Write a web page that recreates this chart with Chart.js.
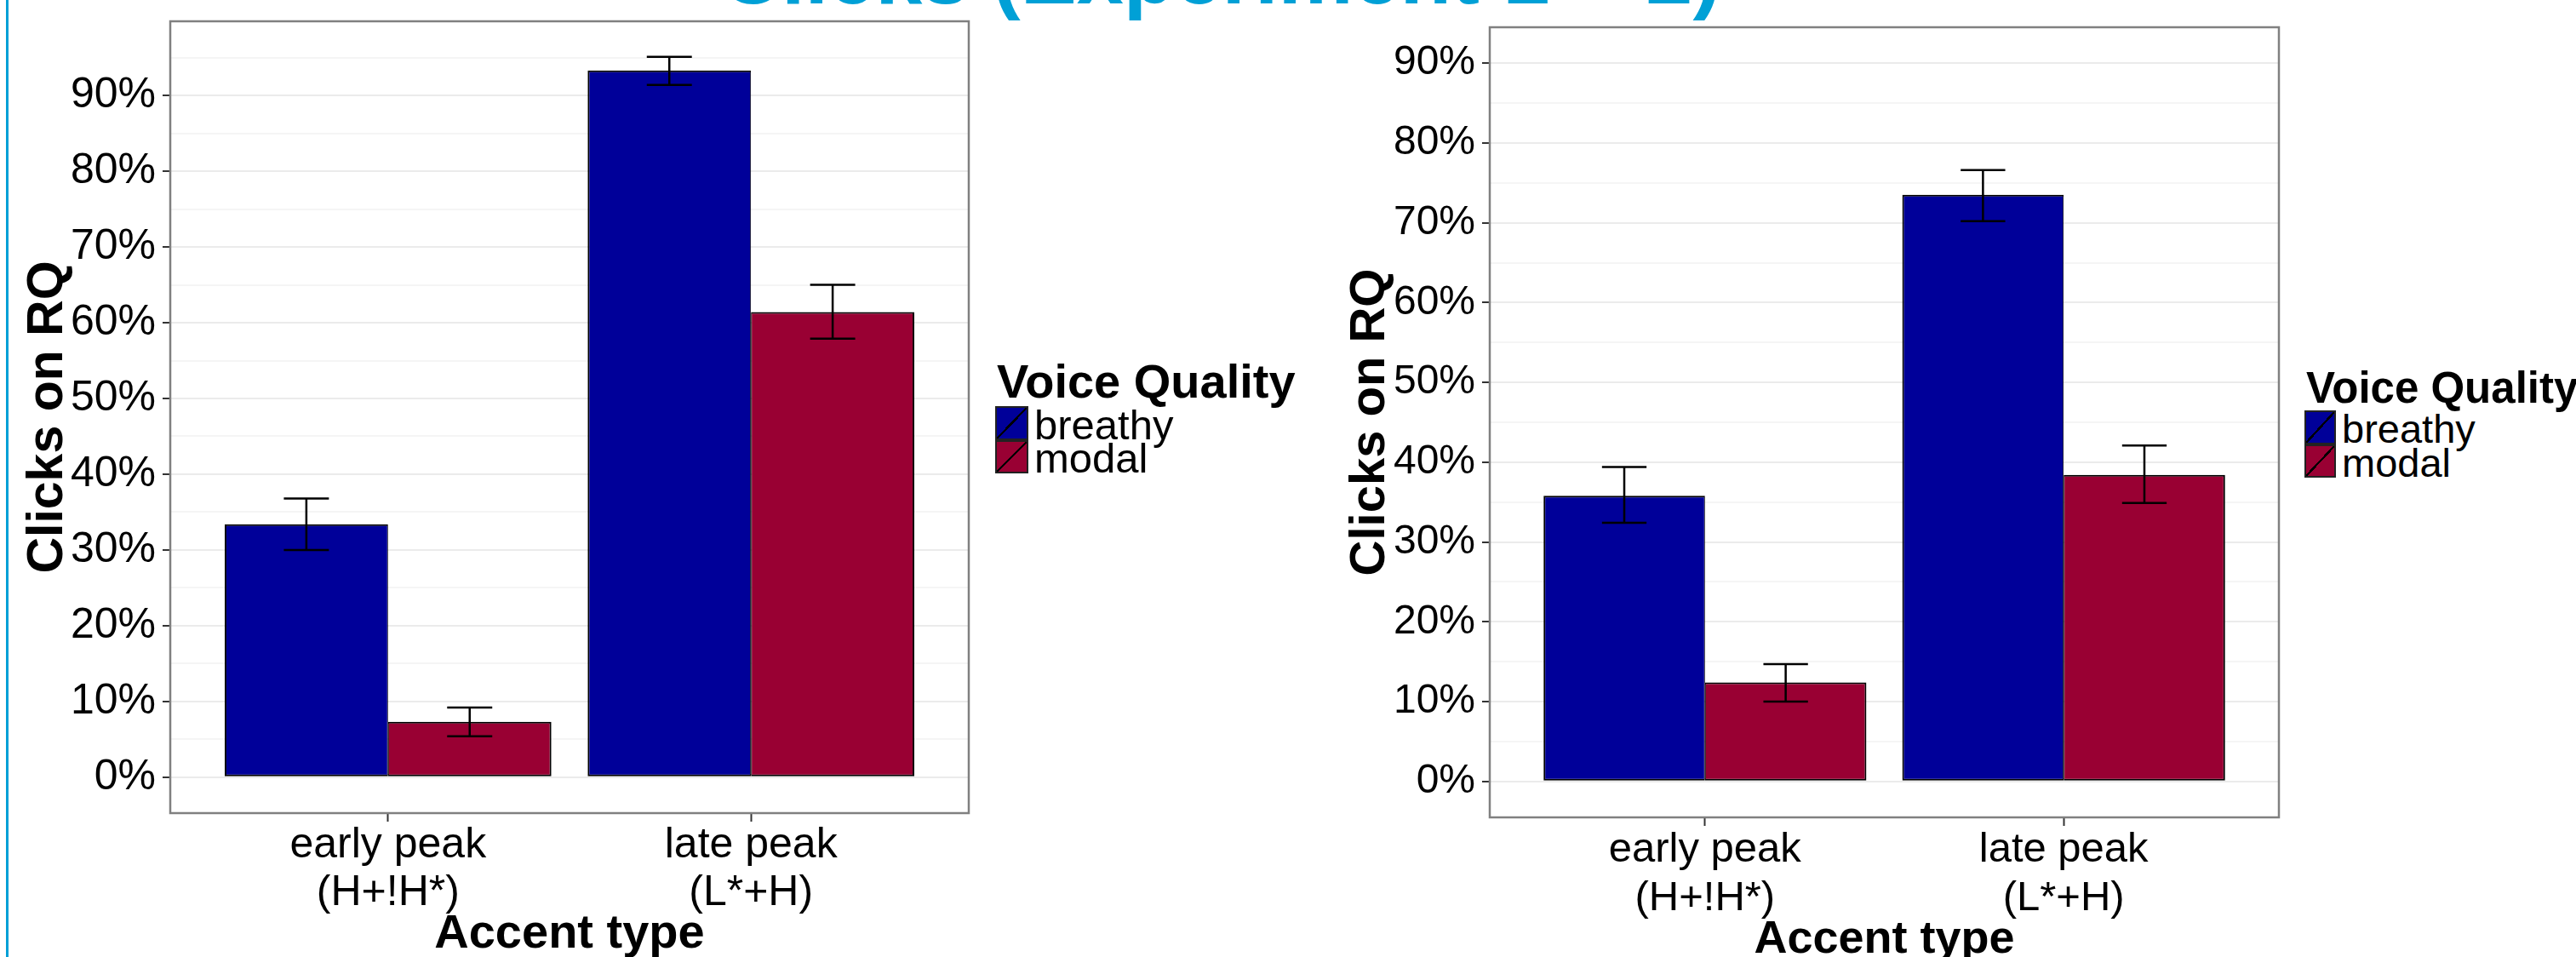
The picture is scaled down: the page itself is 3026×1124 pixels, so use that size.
<!DOCTYPE html>
<html lang="en">
<head>
<meta charset="UTF-8">
<title>Clicks on RQ</title>
<style>
  body {
    margin: 0;
    width: 3026px;
    height: 1124px;
    overflow: hidden;
    position: relative;
    background: #fff;
    font-family: 'Liberation Sans', Arial, sans-serif;
  }
  .slide-line {
    position: absolute;
    left: 7px;
    top: 0;
    width: 3px;
    height: 1124px;
    background: #00a0d6;
  }
  .slide-title {
    position: absolute;
    left: 1434px;
    top: -80px;
    transform: translateX(-50%);
    font-size: 99px;
    line-height: 1;
    font-weight: bold;
    color: #00a0d6;
    white-space: nowrap;
  }
  canvas { position: absolute; top: 0; }
  #chartLeft { left: 0; }
  #chartRight { left: 1550px; }
  .lg { position: absolute; white-space: nowrap; line-height: 1; color: #000; }
  .lg-box { position: absolute; box-sizing: border-box; border: 2px solid #222; }
</style>
</head>
<body>
<div class="slide-line"></div>
<div class="slide-title">Clicks (Experiment 1 + 2)</div>
<canvas id="chartLeft" width="1150" height="1160"></canvas>
<canvas id="chartRight" width="1140" height="1160"></canvas>
<div id="legendLeft"></div>
<div id="legendRight"></div>

<script src="https://cdn.jsdelivr.net/npm/chart.js"></script>
<script>
  // data (percent)
  const categories = [['early peak', '(H+!H*)'], ['late peak', '(L*+H)']];
  const seriesNames = ['breathy', 'modal'];
  const seriesColors = ['#000099', '#990033'];

  const exp1Breathy = [33.4, 93.3];
  const exp1BreathyLow = [30.0, 91.4];
  const exp1BreathyHigh = [36.8, 95.1];
  const exp1Modal = [7.3, 61.4];
  const exp1ModalLow = [5.4, 57.9];
  const exp1ModalHigh = [9.2, 65.0];

  const exp2Breathy = [35.8, 73.5];
  const exp2BreathyLow = [32.4, 70.2];
  const exp2BreathyHigh = [39.4, 76.6];
  const exp2Modal = [12.4, 38.4];
  const exp2ModalLow = [10.0, 34.9];
  const exp2ModalHigh = [14.7, 42.1];

  const yTickValues = [0, 10, 20, 30, 40, 50, 60, 70, 80, 90];
  const yTickLabels = ['0%', '10%', '20%', '30%', '40%', '50%', '60%', '70%', '80%', '90%'];
  const yMinorLeft = [5, 15, 25, 35, 45, 55, 65, 75, 85, 95];
  const yMinorRight = [5, 15, 25, 35, 45, 55, 65, 75, 85];

  const FONT = "'Liberation Sans', Arial, sans-serif";
  Chart.defaults.font.family = FONT;
  Chart.defaults.color = '#000';

  // error bars drawn on top of the bars
  const errorBars = {
    id: 'errorBars',
    afterDatasetsDraw(chart) {
      const ctx = chart.ctx;
      const y = chart.scales.y;
      ctx.save();
      ctx.strokeStyle = '#000';
      ctx.lineWidth = 2.5;
      chart.data.datasets.forEach((ds, i) => {
        chart.getDatasetMeta(i).data.forEach((bar, j) => {
          const top = y.getPixelForValue(ds.errHigh[j]);
          const bot = y.getPixelForValue(ds.errLow[j]);
          const half = bar.width * 0.138;
          ctx.beginPath();
          ctx.moveTo(bar.x, top); ctx.lineTo(bar.x, bot);
          ctx.moveTo(bar.x - half, top); ctx.lineTo(bar.x + half, top);
          ctx.moveTo(bar.x - half, bot); ctx.lineTo(bar.x + half, bot);
          ctx.stroke();
        });
      });
      ctx.restore();
    }
  };

  // grey frame round the panel
  const panelBorder = {
    id: 'panelBorder',
    afterDatasetsDraw(chart) {
      const { ctx, chartArea: a } = chart;
      ctx.save();
      ctx.strokeStyle = '#808080';
      ctx.lineWidth = 2.5;
      ctx.strokeRect(a.left, a.top, a.right - a.left, a.bottom - a.top);
      ctx.restore();
    }
  };

  function makeChart(id, d, s) {
    const toPoints = arr => arr.map((v, i) => ({ x: i + 1, y: v }));
    const isMajor = v => yTickValues.indexOf(v) >= 0;

    return new Chart(document.getElementById(id), {
      type: 'bar',
      data: {
        datasets: [
          {
            label: seriesNames[0],
            data: toPoints(d.breathy),
            errLow: d.breathyLow,
            errHigh: d.breathyHigh,
            backgroundColor: seriesColors[0],
            borderColor: '#000',
            borderWidth: { top: 2, left: 2, bottom: 2, right: 1 },
            borderSkipped: false
          },
          {
            label: seriesNames[1],
            data: toPoints(d.modal),
            errLow: d.modalLow,
            errHigh: d.modalHigh,
            backgroundColor: seriesColors[1],
            borderColor: '#000',
            borderWidth: { top: 2, left: 1, bottom: 2, right: 2 },
            borderSkipped: false
          }
        ]
      },
      options: {
        responsive: false,
        animation: false,
        devicePixelRatio: 1,
        layout: { padding: { top: s.top, right: s.right, left: 0, bottom: 0 } },
        datasets: { bar: { categoryPercentage: 0.9, barPercentage: 1.0 } },
        plugins: {
          legend: { display: false },
          tooltip: { enabled: false }
        },
        scales: {
          x: {
            type: 'linear',
            min: 0.4,
            max: 2.6,
            offset: false,
            afterBuildTicks: sc => { sc.ticks = categories.map((c, i) => ({ value: i + 1 })); },
            afterFit: sc => { sc.height = s.xHeight; sc.paddingLeft = 0; sc.paddingRight = 0; },
            grid: { offset: false, drawOnChartArea: false, tickLength: 10, tickColor: '#333', tickWidth: 2 },
            border: { display: false },
            ticks: {
              autoSkip: false,
              maxRotation: 0,
              padding: 0,
              font: { size: s.xTickSize, lineHeight: s.xTickLH },
              callback: (v, i) => categories[i]
            },
            title: {
              display: true,
              text: 'Accent type',
              font: { size: s.xTitleSize, weight: 'bold', lineHeight: 1 },
              padding: { top: 0, bottom: s.xTitlePad }
            }
          },
          y: {
            type: 'linear',
            min: s.yMin,
            max: s.yMax,
            afterBuildTicks: sc => {
              sc.ticks = yTickValues.concat(s.minor).sort((a, b) => a - b).map(v => ({ value: v }));
            },
            afterFit: sc => { sc.width = 200; sc.paddingTop = 0; sc.paddingBottom = 0; },
            grid: {
              color: c => isMajor(c.tick.value) ? '#ebebeb' : '#f5f5f5',
              lineWidth: 2,
              tickLength: 9,
              tickWidth: 2,
              tickColor: c => isMajor(c.tick.value) ? '#333' : 'rgba(0,0,0,0)'
            },
            border: { display: false },
            ticks: {
              autoSkip: false,
              padding: 8,
              font: { size: s.yTickSize },
              callback: v => {
                const k = yTickValues.indexOf(v);
                return k < 0 ? '' : yTickLabels[k];
              }
            },
            title: {
              display: true,
              text: 'Clicks on RQ',
              font: { size: s.yTitleSize, weight: 'bold', lineHeight: 1 },
              padding: { top: s.yTitlePad, bottom: 0 }
            }
          }
        }
      },
      plugins: [errorBars, panelBorder]
    });
  }

  // html legend, ggplot style: title, then stacked swatches with a "/" diagonal
  function makeLegend(id, s) {
    const el = document.getElementById(id);
    let html = '<div class="lg" style="left:' + s.tx + 'px;top:' + (s.tBase - 0.8464 * s.tSize) +
      'px;font-size:' + s.tSize + 'px;font-weight:bold">Voice Quality</div>';
    seriesNames.forEach((name, i) => {
      const c = seriesColors[i];
      html += '<div class="lg-box" style="left:' + s.sx + 'px;top:' + (s.sy + i * s.sh) + 'px;width:' + s.sw +
        'px;height:' + s.sh + 'px;background:linear-gradient(to bottom right,' + c + ' calc(50% - 1.2px),#000 calc(50% - 1.2px),#000 calc(50% + 1.2px),' + c + ' calc(50% + 1.2px))"></div>';
      html += '<div class="lg" style="left:' + s.lx + 'px;top:' + (s.lBase + i * s.sh - 0.8464 * s.lSize) +
        'px;font-size:' + s.lSize + 'px">' + name + '</div>';
    });
    el.innerHTML = html;
  }

  makeChart('chartLeft', {
    breathy: exp1Breathy, breathyLow: exp1BreathyLow, breathyHigh: exp1BreathyHigh,
    modal: exp1Modal, modalLow: exp1ModalLow, modalHigh: exp1ModalHigh
  }, {
    top: 25, right: 12, xHeight: 205, yMin: -4.75, yMax: 99.8, minor: yMinorLeft,
    xTickSize: 50, xTickLH: 1.12, xTitleSize: 56, xTitlePad: 34,
    yTickSize: 50, yTitleSize: 59, yTitlePad: 27
  });

  makeChart('chartRight', {
    breathy: exp2Breathy, breathyLow: exp2BreathyLow, breathyHigh: exp2BreathyHigh,
    modal: exp2Modal, modalLow: exp2ModalLow, modalHigh: exp2ModalHigh
  }, {
    top: 32, right: 13, xHeight: 200, yMin: -4.5, yMax: 94.5, minor: yMinorRight,
    xTickSize: 49, xTickLH: 1.16, xTitleSize: 54, xTitlePad: 29,
    yTickSize: 48, yTitleSize: 58, yTitlePad: 31
  });

  makeLegend('legendLeft', { tx: 1171, tBase: 467, tSize: 56, sx: 1169, sy: 477, sw: 39, sh: 39.5, lx: 1215, lBase: 516, lSize: 49 });
  makeLegend('legendRight', { tx: 2709, tBase: 473, tSize: 51, sx: 2707, sy: 482, sw: 37, sh: 39.5, lx: 2751, lBase: 520, lSize: 47 });
</script>
</body>
</html>
